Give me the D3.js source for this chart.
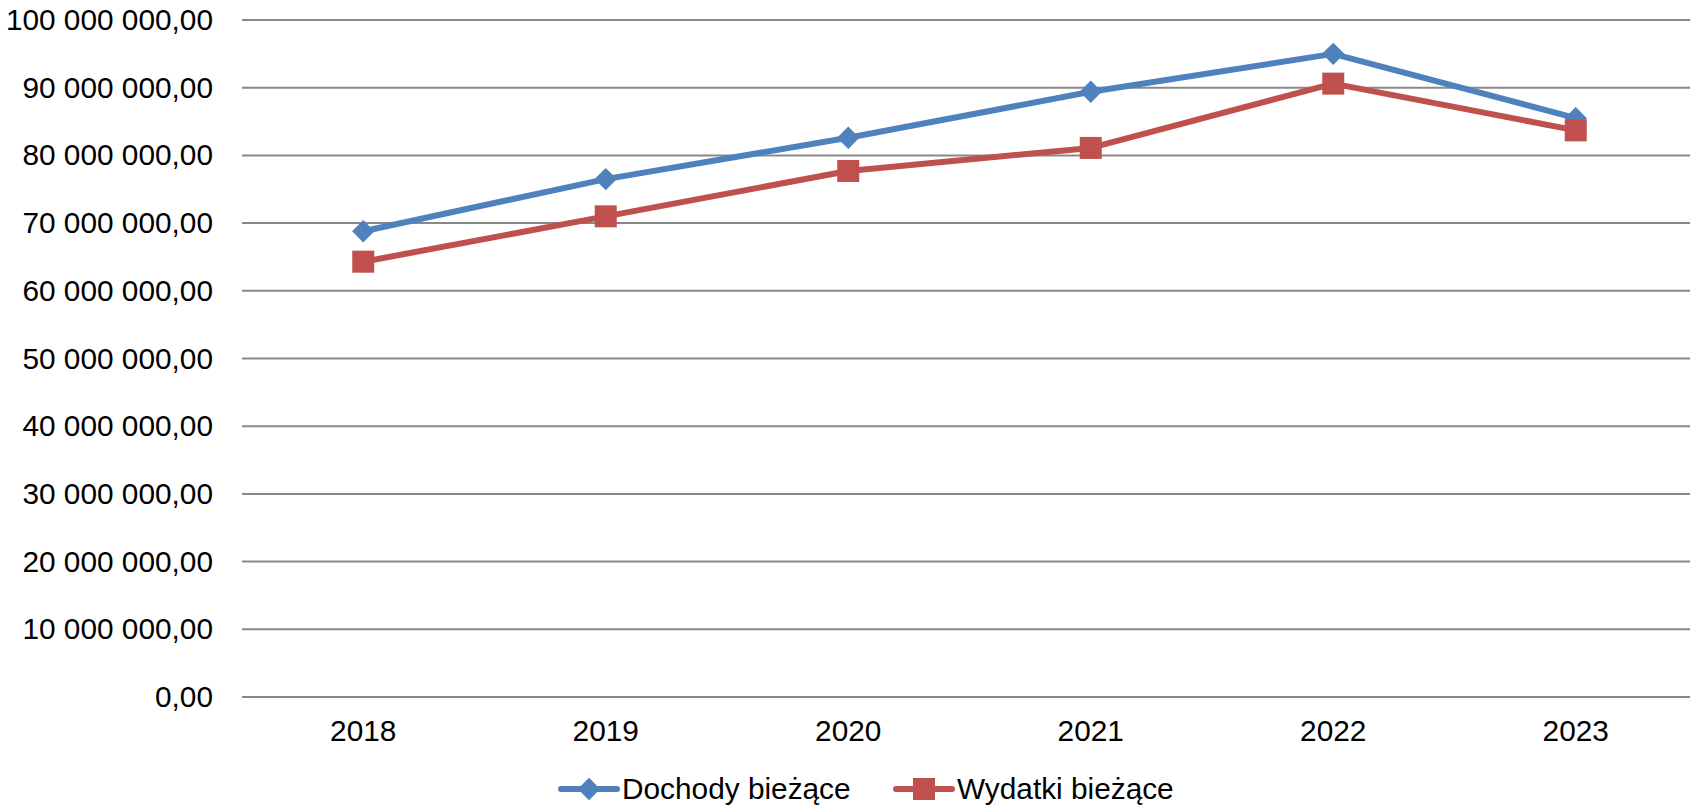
<!DOCTYPE html>
<html>
<head>
<meta charset="utf-8">
<script src="https://cdn.jsdelivr.net/npm/d3@7"></script>
<style>
  html, body { margin: 0; padding: 0; background: #fff; overflow: hidden; }
  svg { display: block; font-family: "Liberation Sans", Arial, sans-serif; }
</style>
</head>
<body>
<svg id="chart" width="1690" height="808"></svg>
<script>
const categories = ["2018", "2019", "2020", "2021", "2022", "2023"];
const dochody = [68800000, 76500000, 82600000, 89400000, 95000000, 85500000];
const wydatki = [64300000, 71000000, 77700000, 81100000, 90600000, 83700000];
const seriesNames = ["Dochody bieżące", "Wydatki bieżące"];
const yTicks = [0, 10000000, 20000000, 30000000, 40000000, 50000000, 60000000, 70000000, 80000000, 90000000, 100000000];

const colors = ["#4F81BD", "#C0504D"];
const FS = 29.8;
const svg = d3.select("#chart");
const margin = { left: 242, right: -7, top: 20, bottom: 111 };
const W = 1690, H = 808;
const x = d3.scaleBand().domain(categories).range([margin.left, W - margin.right]);
const y = d3.scaleLinear().domain([0, 100000000]).range([H - margin.bottom, margin.top]);

const fmt = v => {
  const s = d3.format(",.2f")(v);
  return s.replace(/,/g, " ").replace(".", ",");
};

// gridlines
svg.append("g").selectAll("line").data(yTicks).join("line")
  .attr("x1", margin.left).attr("x2", W - margin.right)
  .attr("y1", d => y(d)).attr("y2", d => y(d))
  .attr("stroke", "#898989").attr("stroke-width", 2);

// y labels
const yAxis = d3.axisLeft(y).tickValues(yTicks).tickFormat(fmt).tickSize(0).tickPadding(29);
const gy = svg.append("g").attr("transform", `translate(${margin.left},0)`).call(yAxis);
gy.select(".domain").remove();
gy.selectAll("text").attr("font-size", FS).attr("fill", "#000").attr("font-family", "Liberation Sans, Arial, sans-serif");

// x labels
const xAxis = d3.axisBottom(x).tickSize(0).tickPadding(23);
const gx = svg.append("g").attr("transform", `translate(0,${y(0)})`).call(xAxis);
gx.select(".domain").remove();
gx.selectAll("text").attr("font-size", FS).attr("fill", "#000").attr("font-family", "Liberation Sans, Arial, sans-serif");

const cx = c => x(c) + x.bandwidth() / 2;
const series = [dochody, wydatki];
const line = d3.line().x((d, i) => cx(categories[i])).y(d => y(d));

series.forEach((vals, si) => {
  svg.append("path").datum(vals).attr("d", line)
    .attr("fill", "none").attr("stroke", colors[si]).attr("stroke-width", 6)
    .attr("stroke-linejoin", "round").attr("stroke-linecap", "round");
});
// markers
svg.append("g").selectAll("path").data(dochody).join("path")
  .attr("d", d3.symbol().type(d3.symbolSquare).size(250))
  .attr("transform", (d, i) => `translate(${cx(categories[i])},${y(d)}) rotate(45)`)
  .attr("fill", colors[0]);
svg.append("g").selectAll("rect").data(wydatki).join("rect")
  .attr("x", (d, i) => cx(categories[i]) - 11).attr("y", d => y(d) - 11)
  .attr("width", 22).attr("height", 22).attr("fill", colors[1]);

// legend
const legY = 789;
const leg = svg.append("g");
const items = [
  { x0: 558, name: seriesNames[0], color: colors[0], shape: "diamond" },
  { x0: 893, name: seriesNames[1], color: colors[1], shape: "square" }
];
items.forEach(it => {
  leg.append("line").attr("x1", it.x0 + 3).attr("x2", it.x0 + 59).attr("y1", legY).attr("y2", legY)
    .attr("stroke", it.color).attr("stroke-width", 6).attr("stroke-linecap", "round");
  if (it.shape === "diamond") {
    leg.append("path").attr("d", d3.symbol().type(d3.symbolSquare).size(250))
      .attr("transform", `translate(${it.x0 + 31},${legY}) rotate(45)`).attr("fill", it.color);
  } else {
    leg.append("rect").attr("x", it.x0 + 20).attr("y", legY - 11).attr("width", 22).attr("height", 22).attr("fill", it.color);
  }
  leg.append("text").attr("x", it.x0 + 64).attr("y", legY).attr("dy", "0.35em")
    .attr("font-size", FS).attr("fill", "#000").text(it.name);
});
</script>
</body>
</html>
